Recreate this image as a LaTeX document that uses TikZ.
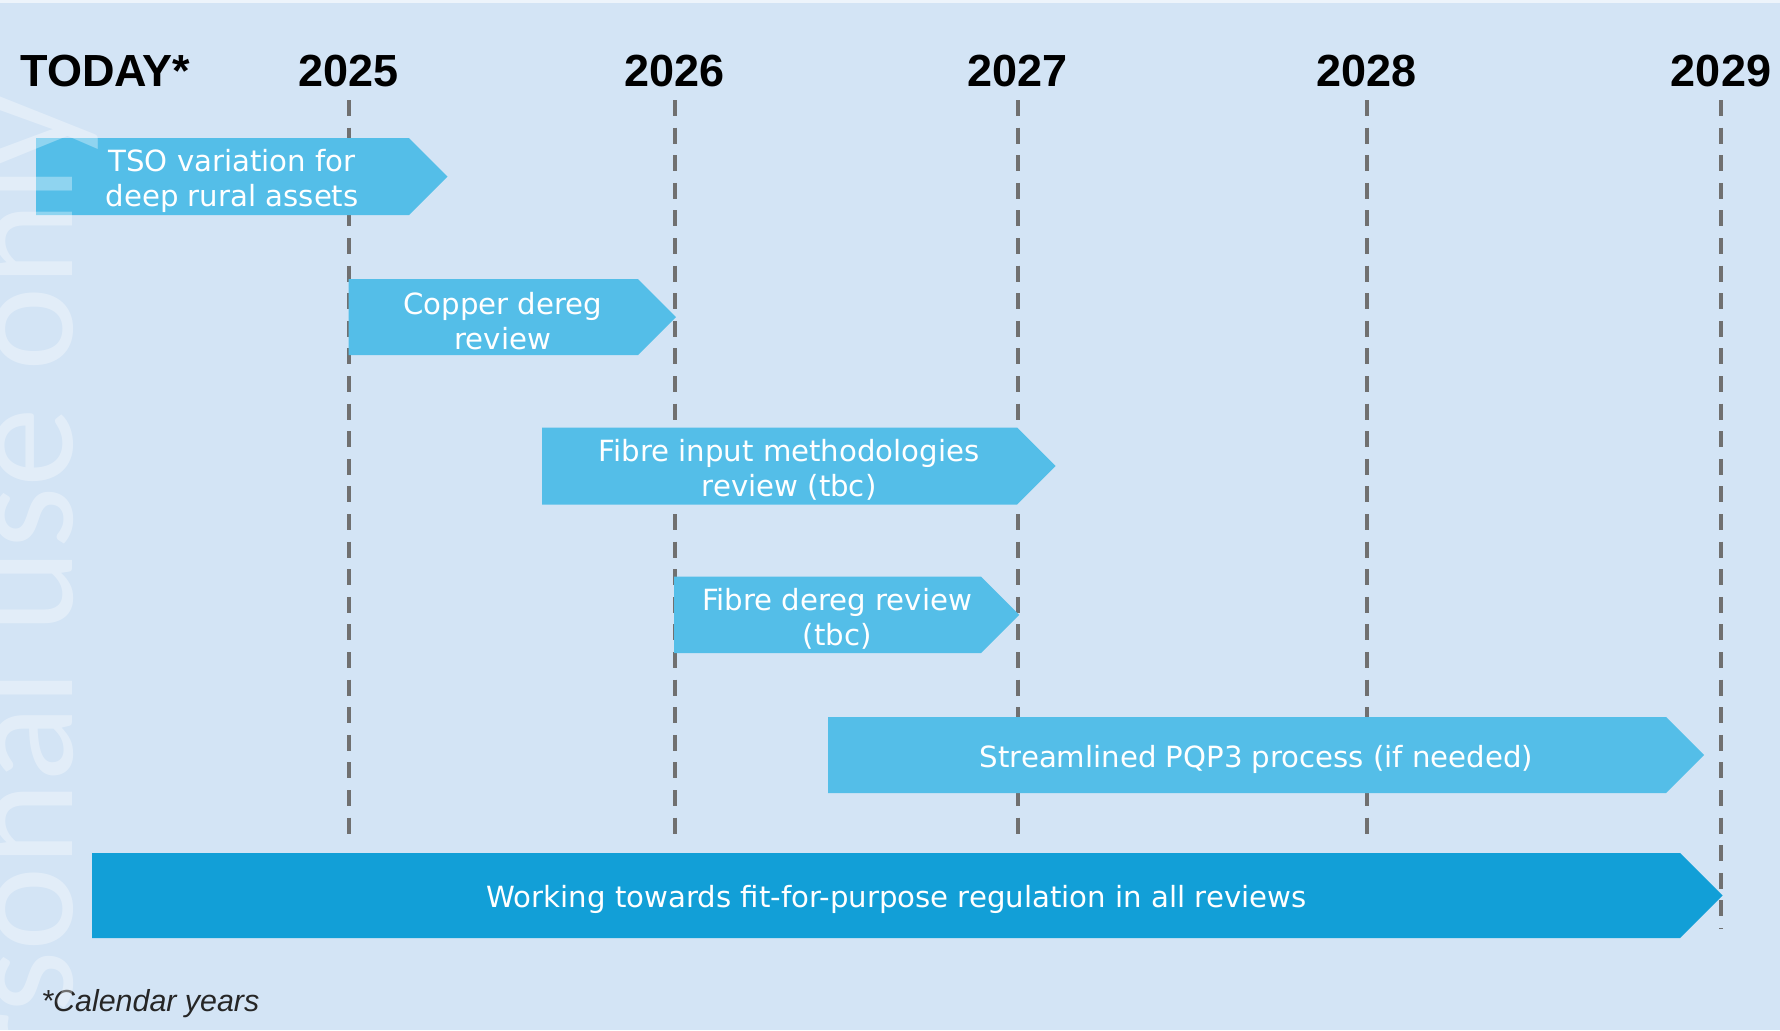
\documentclass[tikz,border=0pt]{standalone}
\usepackage{fontspec}
\setmainfont{DejaVu Sans}
\newfontfamily\headfont{Liberation Sans}
\newfontfamily\markfont{Carlito}
\definecolor{pagebg}{HTML}{D3E4F5}
\definecolor{phaselight}{HTML}{54BEE8}
\definecolor{phasedark}{HTML}{129FD7}
\definecolor{gridgrey}{HTML}{707070}

\begin{document}
\begin{tikzpicture}[x=0.5pt,y=-0.5pt,
    year/.style={font=\headfont\bfseries\fontsize{22.5}{27}\selectfont,anchor=base,inner sep=0pt},
    yearline/.style={gridgrey,line width=2pt,dash pattern=on 8pt off 5.8pt},
    phasetext/.style={text=white,align=center,font=\fontsize{14.6}{17.5}\selectfont,inner sep=0pt}]
    \useasboundingbox (0,0) rectangle (1780,1030);
    \fill[pagebg] (0,0) rectangle (1780,1030);
    \fill[white!60!pagebg] (0,0) rectangle (1780,3);

    % years and their guide lines
    \node[year,anchor=base west] (today) at (20,86) {TODAY*};
    \foreach \yr/\xx/\yend in {2025/348.5/842,2026/674.5/842,2027/1017.5/842,2028/1366.5/842,2029/1721/929}{
        \node[year] (y\yr) at (\xx,86) {\yr};
        \draw[yearline] (y\yr |- 0,100) -- (y\yr |- 0,\yend);
    }

    % review bars
    \foreach \lx/\rx/\ty/\by/\col/\nm/\txt in {
        36/409/138/215/phaselight/tso/{TSO variation for\\deep rural assets},
        348.5/638/279/355/phaselight/copper/{Copper dereg\\review},
        542/1017/427.5/504.5/phaselight/fibreim/{Fibre input methodologies\\review (tbc)},
        674/981/576.5/653/phaselight/fibredereg/{Fibre dereg review\\(tbc)},
        828/1666/717/793/phaselight/pqp/{Streamlined PQP3 process (if needed)},
        92/1680/853/938/phasedark/working/{Working towards fit-for-purpose regulation in all reviews}}{
        \pgfmathsetmacro\dep{(\by-\ty)/2}
        \pgfmathsetmacro\my{(\by+\ty)/2}
        \pgfmathsetmacro\tx{(\lx+\rx+\dep/2)/2}
        \fill[\col] (\lx,\ty) -- (\rx,\ty) -- (\rx+\dep,\my) -- (\rx,\by) -- (\lx,\by) -- cycle;
        \node[phasetext] (\nm) at (\tx,\my+4) {\txt};
    }

    \node[anchor=base west,inner sep=0pt,text=black!85,font=\headfont\itshape\fontsize{15.2}{18}\selectfont] (note) at (41,1011) {*Calendar years};

    % watermark
    \begin{scope}
        \clip (0,0) rectangle (1780,1030);
        \node[rotate=90,anchor=base east,inner sep=0pt,text=white,text opacity=0.35,font=\markfont\fontsize{80}{96}\selectfont] (mark) at (72,93) {For personal use only};
    \end{scope}
\end{tikzpicture}
\end{document}
